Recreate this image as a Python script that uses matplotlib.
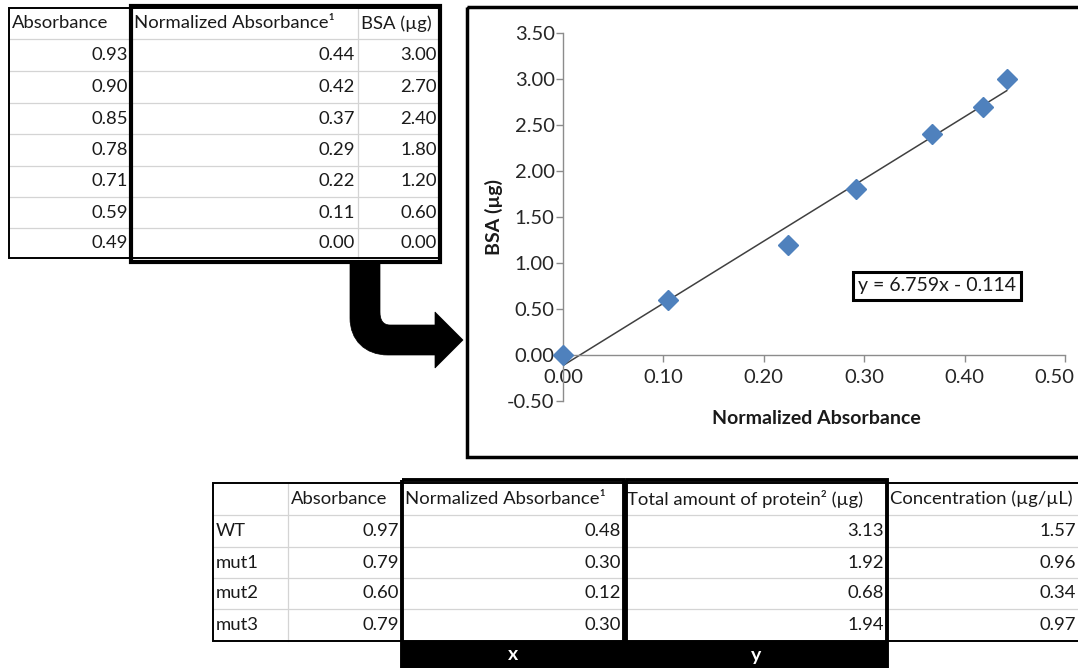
import numpy as np
import matplotlib.pyplot as plt
from matplotlib.patches import Rectangle, PathPatch
from matplotlib.path import Path
from matplotlib.ticker import FormatStrFormatter
from matplotlib.transforms import ScaledTranslation

plt.rcParams['font.family'] = ['Lato', 'DejaVu Sans']

# standard curve table
std_abs = [0.93, 0.90, 0.85, 0.78, 0.71, 0.59, 0.49]
std_norm = [0.44, 0.42, 0.37, 0.29, 0.22, 0.11, 0.00]
std_bsa = [3.00, 2.70, 2.40, 1.80, 1.20, 0.60, 0.00]
# unrounded normalized absorbance as plotted
plot_x = [0.442, 0.418, 0.368, 0.292, 0.224, 0.105, 0.0]
slope, intercept = 6.759, -0.114

# samples table
samples = ['WT', 'mut1', 'mut2', 'mut3']
samp_abs = [0.97, 0.79, 0.60, 0.79]
samp_norm = [0.48, 0.30, 0.12, 0.30]
samp_total = [3.13, 1.92, 0.68, 1.94]
samp_conc = [1.57, 0.96, 0.34, 0.97]

W, H = 1078, 668
fig = plt.figure(figsize=(W / 100, H / 100), dpi=100)
bg = fig.add_axes([0, 0, 1, 1])
bg.set_xlim(0, W)
bg.set_ylim(H, 0)
bg.axis('off')

GRID = '#d4d4d4'
TXT = '#1a1a1a'
FS = 13.3


def draw_table(xe, ye, headers, cols, labels=None):
    # light inner lines
    for y in ye[1:-1]:
        bg.plot([xe[0], xe[-1]], [y, y], color=GRID, lw=0.9, zorder=1)
    for x in xe[1:-1]:
        bg.plot([x, x], [ye[0], ye[-1]], color=GRID, lw=0.9, zorder=1)
    bg.add_patch(Rectangle((xe[0], ye[0]), xe[-1] - xe[0], ye[-1] - ye[0],
                           fill=False, ec='black', lw=1.4, zorder=2))
    hy = (ye[0] + ye[1]) / 2
    for i, h in enumerate(headers):
        bg.text(xe[i] + 3, hy, h, ha='left', va='center', fontsize=FS, color=TXT)
    for r in range(len(ye) - 2):
        cy = (ye[r + 1] + ye[r + 2]) / 2
        c0 = 0
        if labels is not None:
            bg.text(xe[0] + 3, cy, labels[r], ha='left', va='center',
                    fontsize=FS, color=TXT)
            c0 = 1
        for j, col in enumerate(cols):
            bg.text(xe[c0 + j + 1] - 3, cy, f'{col[r]:.2f}', ha='right',
                    va='center', fontsize=FS, color=TXT)


# top-left table
draw_table([9, 131, 358, 440], [8, 39, 71, 103, 134, 166, 197, 228, 258],
           ['Absorbance', 'Normalized Absorbance\u00b9', 'BSA (\u00b5g)'],
           [std_abs, std_norm, std_bsa])
bg.add_patch(Rectangle((131, 6), 309, 256, fill=False, ec='black', lw=3, zorder=3))

# bent arrow
verts = [(350, 262), (380, 262), (380, 312), (380, 320), (383, 325), (390, 325),
         (435, 325), (435, 312), (463, 340), (435, 368), (435, 355), (388, 355),
         (365, 355), (350, 340), (350, 318), (350, 262)]
codes = [Path.MOVETO, Path.LINETO, Path.LINETO, Path.CURVE4, Path.CURVE4, Path.CURVE4,
         Path.LINETO, Path.LINETO, Path.LINETO, Path.LINETO, Path.LINETO, Path.LINETO,
         Path.CURVE4, Path.CURVE4, Path.CURVE4, Path.CLOSEPOLY]
bg.add_patch(PathPatch(Path(verts, codes), fc='black', ec='black', lw=0.5, zorder=4))

# chart frame
bg.add_patch(Rectangle((467, 7), 700, 450, fill=False, ec='black', lw=2.5, zorder=3))

# bottom table
draw_table([213, 288, 402, 624, 887, 1079], [483, 515, 547, 578, 609, 641],
           ['', 'Absorbance', 'Normalized Absorbance\u00b9',
            'Total amount of protein\u00b2 (\u00b5g)', 'Concentration (\u00b5g/\u00b5L)'],
           [samp_abs, samp_norm, samp_total, samp_conc], labels=samples)
for x0, w, lab in [(402, 222, 'x'), (626, 261, 'y')]:
    bg.add_patch(Rectangle((x0, 641), w, 30, fc='black', ec='none', zorder=3))
    bg.add_patch(Rectangle((x0, 480), w, 200, fill=False, ec='black', lw=2.8, zorder=4))
    bg.text(x0 + w / 2, 655, lab, ha='center', va='center', fontsize=14,
            fontweight='bold', color='white', zorder=5)

# scatter chart
ax = fig.add_axes([563 / W, (H - 401) / H, 502 / W, 368 / H])
ax.patch.set_alpha(0)
ax.set_xlim(0, 0.5)
ax.set_ylim(-0.5, 3.5)
for s in ['top', 'right']:
    ax.spines[s].set_visible(False)
ax.spines['bottom'].set_position(('data', 0))
for s in ['left', 'bottom']:
    ax.spines[s].set_color('#8c8c8c')
    ax.spines[s].set_linewidth(1.0)
ax.set_xticks(np.arange(0, 0.51, 0.1))
ax.set_yticks(np.arange(-0.5, 3.51, 0.5))
ax.xaxis.set_major_formatter(FormatStrFormatter('%.2f'))
ax.yaxis.set_major_formatter(FormatStrFormatter('%.2f'))
ax.tick_params(direction='out', length=5, width=1, color='#8c8c8c',
               labelsize=14.5, labelcolor='#262626', pad=1)
ax.tick_params(axis='x', pad=5)

xs = np.array([0, max(plot_x)])
ax.plot(xs, slope * xs + intercept, color='#404040', lw=1.1, zorder=2)
ax.plot(plot_x, std_bsa, 'D', color='#4F81BD', ms=10.5, clip_on=False, zorder=3)
ax.text(0.3725, 0.75, 'y = 6.759x - 0.114', ha='center', va='center', fontsize=14,
        color='#1a1a1a',
        bbox=dict(boxstyle='square,pad=0.28', fc='white', ec='black', lw=2.2))

bg.text(816, 419, 'Normalized Absorbance', ha='center', va='center',
        fontsize=14, fontweight='bold', color='#1a1a1a')
bg.text(494, 217, 'BSA (\u00b5g)', ha='center', va='center', rotation=90,
        fontsize=14, fontweight='bold', color='#1a1a1a')

# nudge the last x tick label so it stays inside the picture
fig.canvas.draw()
last = ax.xaxis.get_major_ticks()[-1].label1
last.set_transform(last.get_transform() + ScaledTranslation(-8 / 72, 0, fig.dpi_scale_trans))

fig.savefig('out.png', dpi=100)
